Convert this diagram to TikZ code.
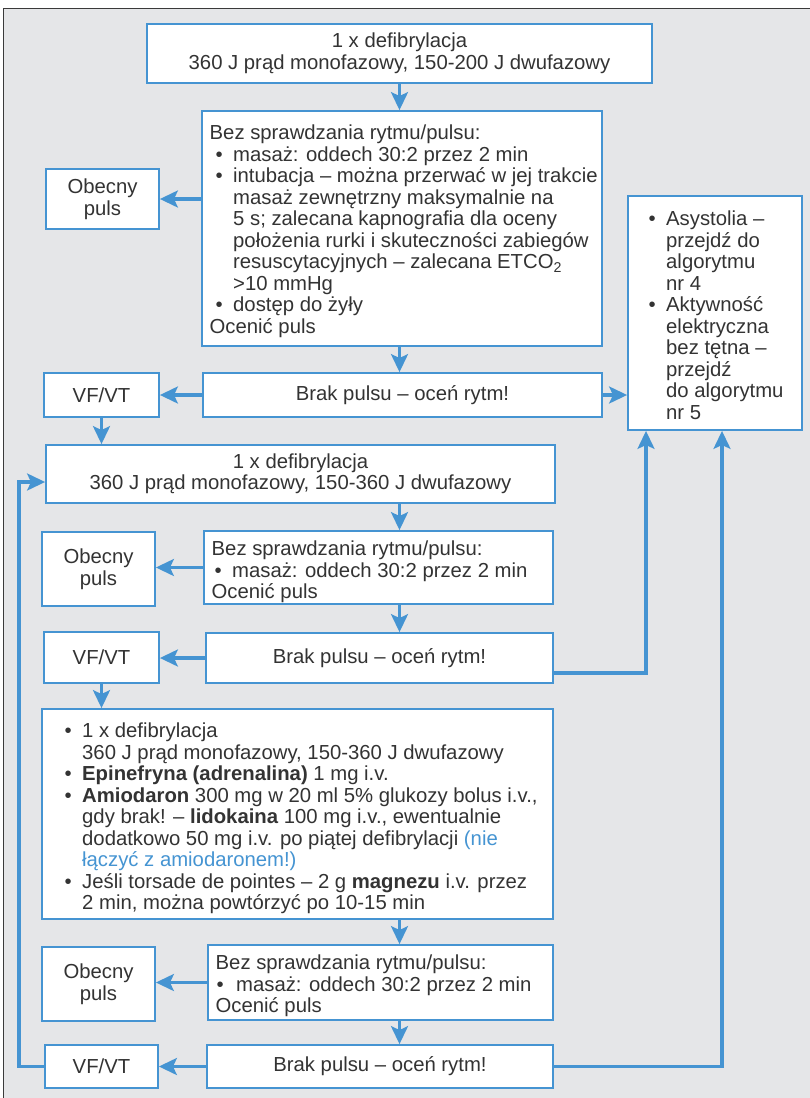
\documentclass[tikz,border=0pt]{standalone}
\usepackage{fontspec}
\setmainfont{Liberation Sans}
\usetikzlibrary{arrows.meta}
\definecolor{bl}{HTML}{4594D2}
\definecolor{bgc}{HTML}{E5E6E8}
\definecolor{tx}{HTML}{333333}
\definecolor{frc}{HTML}{3A3A3A}
\newcommand\myfs{\fontsize{20.3}{21.5}\selectfont}
\newcommand\mybul{\makebox[17.5pt][l]{•}}
\newcommand\mybulw{\makebox[19.5pt][l]{•}}
\begin{document}
\begin{tikzpicture}[x=1pt,y=-1pt,
 box/.style={draw=bl, line width=1.8pt, fill=white, inner sep=0pt, text=tx, align=center, font=\myfs},
 txt/.style={inner sep=0pt, text=tx, align=left, anchor=north west, font=\myfs},
 arr/.style={draw=bl, line width=3.3pt, line join=miter, -{Stealth[length=18pt,width=17pt,inset=4pt]}}]
\useasboundingbox (0,0) rectangle (809,1098);
\fill[bgc] (3.5,8.5) rectangle (815,1105);
\draw[frc, line width=1.2pt] (3.5,1105) -- (3.5,8.5) -- (815,8.5);
\coordinate (sp) at (399.5,0);

% boxes
\node[box, minimum width=505pt, minimum height=59pt] (A) at (399.5,53.5) {1 x defibrylacja\\360 J prąd monofazowy, 150-200 J dwufazowy};
\node[box, minimum width=400pt, minimum height=235pt] (B) at (402,228.5) {};
\node[box, minimum width=113pt, minimum height=60pt] (O1) at (102.5,199) {Obecny\\puls};
\node[box, minimum width=174pt, minimum height=234pt] (R) at (715,313) {};
\node[box, minimum width=399pt, minimum height=44pt] (C) at (402.5,395) {Brak pulsu – oceń rytm!};
\node[box, minimum width=115pt, minimum height=44pt] (V1) at (101.5,395) {VF/VT};
\node[box, minimum width=509pt, minimum height=58pt] (D) at (300.5,474) {1 x defibrylacja\\360 J prąd monofazowy, 150-360 J dwufazowy};
\node[box, minimum width=349pt, minimum height=73pt] (E) at (378.5,567.5) {};
\node[box, minimum width=113pt, minimum height=74pt] (O2) at (98.5,569) {Obecny\\puls};
\node[box, minimum width=347pt, minimum height=50pt] (F) at (379.5,658) {Brak pulsu – oceń rytm!};
\node[box, minimum width=115pt, minimum height=51pt] (V2) at (101.5,657.5) {VF/VT};
\node[box, minimum width=511pt, minimum height=210pt] (G) at (297.5,814) {};
\node[box, minimum width=345pt, minimum height=75pt] (H) at (380.5,982.5) {};
\node[box, minimum width=113pt, minimum height=74pt] (O3) at (98.5,984) {Obecny\\puls};
\node[box, minimum width=346pt, minimum height=43pt] (I) at (380,1066.5) {Brak pulsu – oceń rytm!};
\node[box, minimum width=113pt, minimum height=43pt] (V3) at (101.5,1066.5) {VF/VT};

% texts of left-aligned boxes
\node[txt] (Bt) at (209.5,125) {Bez sprawdzania rytmu/pulsu:\\
\hspace*{6pt}\mybul masaż: oddech 30:2 przez 2 min\\
\hspace*{6pt}\mybul intubacja – można przerwać w jej trakcie\\
\hspace*{23.5pt}masaż zewnętrzny maksymalnie na\\
\hspace*{23.5pt}5 s; zalecana kapnografia dla oceny\\
\hspace*{23.5pt}położenia rurki i skuteczności zabiegów\\
\hspace*{23.5pt}resuscytacyjnych – zalecana ETCO\textsubscript{2}\\
\hspace*{23.5pt}>10 mmHg\\
\hspace*{6pt}\mybul dostęp do żyły\\
Ocenić puls};
\node[txt] (Rt) at (648.5,211) {\mybul Asystolia –\\
\hspace*{17.5pt}przejdź do\\
\hspace*{17.5pt}algorytmu\\
\hspace*{17.5pt}nr 4\\
\mybul Aktywność\\
\hspace*{17.5pt}elektryczna\\
\hspace*{17.5pt}bez tętna –\\
\hspace*{17.5pt}przejdź\\
\hspace*{17.5pt}do algorytmu\\
\hspace*{17.5pt}nr 5};
\node[txt] (Et) at (211.5,541) {Bez sprawdzania rytmu/pulsu:\\
\hspace*{3pt}\mybul masaż: oddech 30:2 przez 2 min\\
Ocenić puls};
\node[txt] (Gt) at (64.5,723) {\mybul 1 x defibrylacja\\
\hspace*{17.5pt}360 J prąd monofazowy, 150-360 J dwufazowy\\
\mybul\textbf{Epinefryna (adrenalina)} 1 mg i.v.\\
\mybul\textbf{Amiodaron} 300 mg w 20 ml 5\% glukozy bolus i.v.,\\
\hspace*{17.5pt}gdy brak! – \textbf{lidokaina} 100 mg i.v., ewentualnie\\
\hspace*{17.5pt}dodatkowo 50 mg i.v. po piątej defibrylacji \textcolor{bl}{(nie}\\
\hspace*{17.5pt}\textcolor{bl}{łączyć z amiodaronem!)}\\
\mybul Jeśli torsade de pointes – 2 g \textbf{magnezu} i.v. przez\\
\hspace*{17.5pt}2 min, można powtórzyć po 10-15 min};
\node[txt] (Ht) at (215.5,955) {Bez sprawdzania rytmu/pulsu:\\
\hspace*{1pt}\mybulw masaż: oddech 30:2 przez 2 min\\
Ocenić puls};

% connectors
\draw[arr] (A.south -| sp) -- (B.north -| sp);
\draw[arr] (B.west |- O1.east) -- (O1.east);
\draw[arr] (B.south -| sp) -- (C.north -| sp);
\draw[arr] (C.west) -- (V1.east);
\draw[arr] (C.east) -- (C.east -| R.west);
\draw[arr] (V1.south) -- (V1.south |- D.north);
\draw[arr] (D.south -| sp) -- (E.north -| sp);
\draw[arr] (E.west) -- (E.west -| O2.east);
\draw[arr] (E.south -| sp) -- (F.north -| sp);
\draw[arr] (F.west) -- (F.west -| V2.east);
\draw[arr] ([yshift=-15pt]F.east) -| ([xshift=-69pt]R.south);
\draw[arr] (V2.south) -- (V2.south |- G.north);
\draw[arr] (G.south -| sp) -- (H.north -| sp);
\draw[arr] (H.west) -- (H.west -| O3.east);
\draw[arr] (H.south -| sp) -- (I.north -| sp);
\draw[arr] (I.west) -- (I.west -| V3.east);
\draw[arr] (I.east) -| ([xshift=7pt]R.south);
\draw[arr] (V3.west) -- ++(-25,0) |- ([yshift=-8pt]D.west);
\end{tikzpicture}
\end{document}
